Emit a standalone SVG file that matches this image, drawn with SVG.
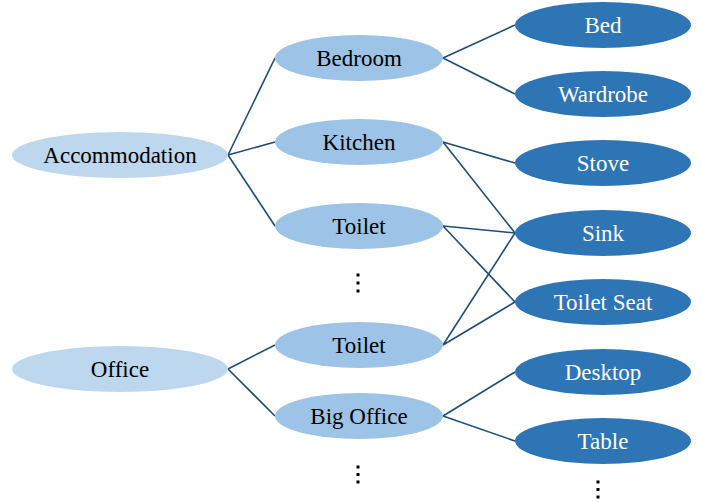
<svg xmlns="http://www.w3.org/2000/svg" width="702" height="502" viewBox="0 0 702 502">
<style>
.l1{fill:#BDD7EE}
.l2{fill:#9DC3E6}
.l3{fill:#2E75B6}
text{font-family:'Times New Roman','Liberation Serif','DejaVu Serif',serif;font-size:23px;text-anchor:middle;dominant-baseline:central}
.w{fill:#FFFFFF}
.k{fill:#000000}
.e{stroke:#1F4E79;stroke-width:1.6;fill:none}
.dot{fill:#000000}
</style>
<rect width="702" height="502" fill="#FFFFFF"/>
<g id="connectors">
<path class="e" d="M228,155 L275,58 M228,155 L275,142 M228,155 L275,226"/>
<path class="e" d="M228,369 L275,345 M228,369 L275,416"/>
<path class="e" d="M443,58 L515,25 M443,58 L515,94"/>
<path class="e" d="M443,142 L515,163 M443,142 L515,233"/>
<path class="e" d="M443,226 L515,233 M443,226 L515,302"/>
<path class="e" d="M443,345 L515,233 M443,345 L515,302"/>
<path class="e" d="M443,416 L515,372 M443,416 L515,441"/>
</g>
<g id="accommodation"><ellipse class="l1" cx="120" cy="155" rx="108" ry="23"/><text class="k" x="120" y="155">Accommodation</text></g>
<g id="office"><ellipse class="l1" cx="120" cy="369" rx="108" ry="23"/><text class="k" x="120" y="369">Office</text></g>
<g id="bedroom"><ellipse class="l2" cx="359" cy="58" rx="84" ry="23"/><text class="k" x="359" y="58">Bedroom</text></g>
<g id="kitchen"><ellipse class="l2" cx="359" cy="142" rx="84" ry="23"/><text class="k" x="359" y="142">Kitchen</text></g>
<g id="toilet1"><ellipse class="l2" cx="359" cy="226" rx="84" ry="23"/><text class="k" x="359" y="226">Toilet</text></g>
<g id="toilet2"><ellipse class="l2" cx="359" cy="345" rx="84" ry="23"/><text class="k" x="359" y="345">Toilet</text></g>
<g id="bigoffice"><ellipse class="l2" cx="359" cy="416" rx="84" ry="23"/><text class="k" x="359" y="416">Big Office</text></g>
<g id="bed"><ellipse class="l3" cx="603" cy="25" rx="88" ry="23"/><text class="w" x="603" y="25">Bed</text></g>
<g id="wardrobe"><ellipse class="l3" cx="603" cy="94" rx="88" ry="23"/><text class="w" x="603" y="94">Wardrobe</text></g>
<g id="stove"><ellipse class="l3" cx="603" cy="163" rx="88" ry="23"/><text class="w" x="603" y="163">Stove</text></g>
<g id="sink"><ellipse class="l3" cx="603" cy="233" rx="88" ry="23"/><text class="w" x="603" y="233">Sink</text></g>
<g id="toiletseat"><ellipse class="l3" cx="603" cy="302" rx="88" ry="23"/><text class="w" x="603" y="302">Toilet Seat</text></g>
<g id="desktop"><ellipse class="l3" cx="603" cy="372" rx="88" ry="23"/><text class="w" x="603" y="372">Desktop</text></g>
<g id="table"><ellipse class="l3" cx="603" cy="441" rx="88" ry="23"/><text class="w" x="603" y="441">Table</text></g>
<g id="dots1"><rect class="dot" x="356.5" y="273.5" width="3" height="3"/><rect class="dot" x="356.5" y="281.5" width="3" height="3"/><rect class="dot" x="356.5" y="289.5" width="3" height="3"/></g>
<g id="dots2"><rect class="dot" x="356.5" y="465.5" width="3" height="3"/><rect class="dot" x="356.5" y="473" width="3" height="3"/><rect class="dot" x="356.5" y="480.5" width="3" height="3"/></g>
<g id="dots3"><rect class="dot" x="596.5" y="480.5" width="3" height="3"/><rect class="dot" x="596.5" y="488" width="3" height="3"/><rect class="dot" x="596.5" y="495.5" width="3" height="3"/></g>
</svg>
